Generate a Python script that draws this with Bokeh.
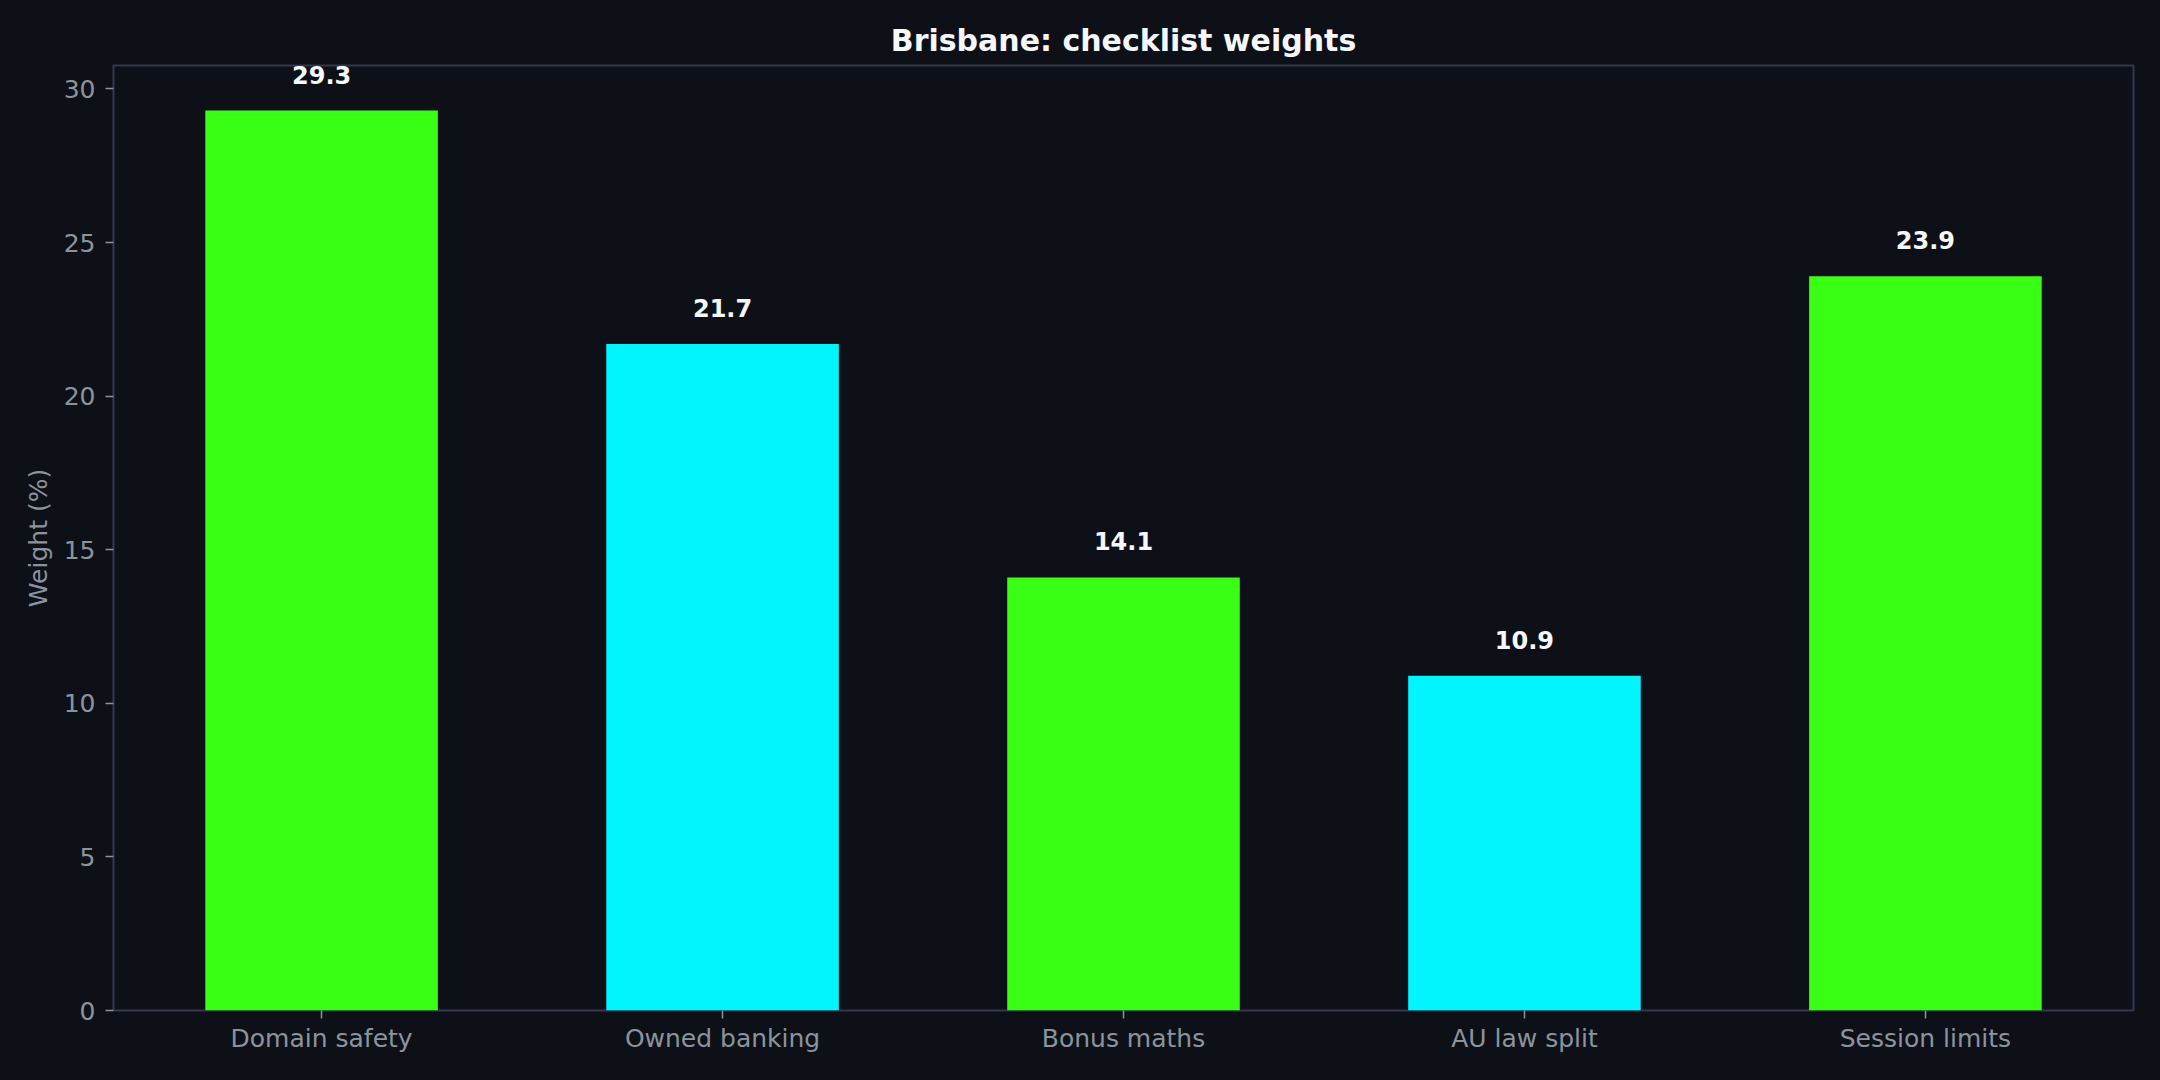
from bokeh.models import ColumnDataSource, FactorRange, Range1d, FixedTicker
from bokeh.plotting import figure
from bokeh.embed import file_html
from bokeh.resources import INLINE
from bokeh.core.properties import value

categories = ["Domain safety", "Owned banking", "Bonus maths", "AU law split", "Session limits"]
weights = [29.3, 21.7, 14.1, 10.9, 23.9]
bar_colors = ["#39ff14", "#00f5ff", "#39ff14", "#00f5ff", "#39ff14"]
y_ticks = [0, 5, 10, 15, 20, 25, 30]

BG = "#0d1117"
SPINE = "#34374f"
MUTED = "#8b949e"
FONT = "DejaVu Sans"

source = ColumnDataSource(data=dict(
    cat=categories,
    weight=weights,
    color=bar_colors,
    label=["%.1f" % w for w in weights],
))

p = figure(
    x_range=FactorRange(*categories, range_padding=0.019, range_padding_units="absolute"),
    y_range=Range1d(0, max(weights) * 1.05),
    frame_width=2020,
    frame_height=945,
    min_border_left=113,
    min_border_right=27,
    min_border_top=65,
    min_border_bottom=70,
    title="Brisbane: checklist weights",
    output_backend="svg",
    toolbar_location=None,
    background_fill_color=BG,
    border_fill_color=BG,
)

p.vbar(x="cat", top="weight", width=0.58, source=source, fill_color="color", line_color=None)

# value labels above the bars
p.text(x="cat", y="weight", text="label", source=source, y_offset=-36,
       text_align="center", text_baseline="alphabetic",
       text_font=value(FONT), text_font_style="bold", text_font_size="24px",
       text_color="#f5f7fa")

# title
p.title.align = "center"
p.title.text_font = FONT
p.title.text_font_size = "30px"
p.title.text_font_style = "bold"
p.title.text_color = "#f5f7fa"
p.title.standoff = 16

# frame / spines
p.outline_line_color = SPINE
p.outline_line_width = 2
p.xgrid.grid_line_color = None
p.ygrid.grid_line_color = None

for ax in (p.xaxis, p.yaxis):
    ax.axis_line_color = None
    ax.major_tick_line_color = MUTED
    ax.major_tick_line_width = 1.5
    ax.major_tick_out = 8
    ax.major_tick_in = 0
    ax.minor_tick_line_color = None
    ax.major_label_text_color = MUTED
    ax.major_label_text_font = FONT
    ax.major_label_text_font_size = "25px"

p.xaxis.major_label_standoff = 5
p.yaxis.major_label_standoff = 10
p.yaxis.ticker = FixedTicker(ticks=y_ticks)
p.yaxis.axis_label = "Weight (%)"
p.yaxis.axis_label_text_color = MUTED
p.yaxis.axis_label_text_font = FONT
p.yaxis.axis_label_text_font_size = "25px"
p.yaxis.axis_label_text_font_style = "normal"
p.yaxis.axis_label_standoff = 8

# dark page, no margin, so the figure fills the window like the original
html = file_html(p, INLINE).replace(
    "</head>", "<style>html, body {margin: 0; background: %s;}</style></head>" % BG, 1)
open("out.html", "w").write(html)
